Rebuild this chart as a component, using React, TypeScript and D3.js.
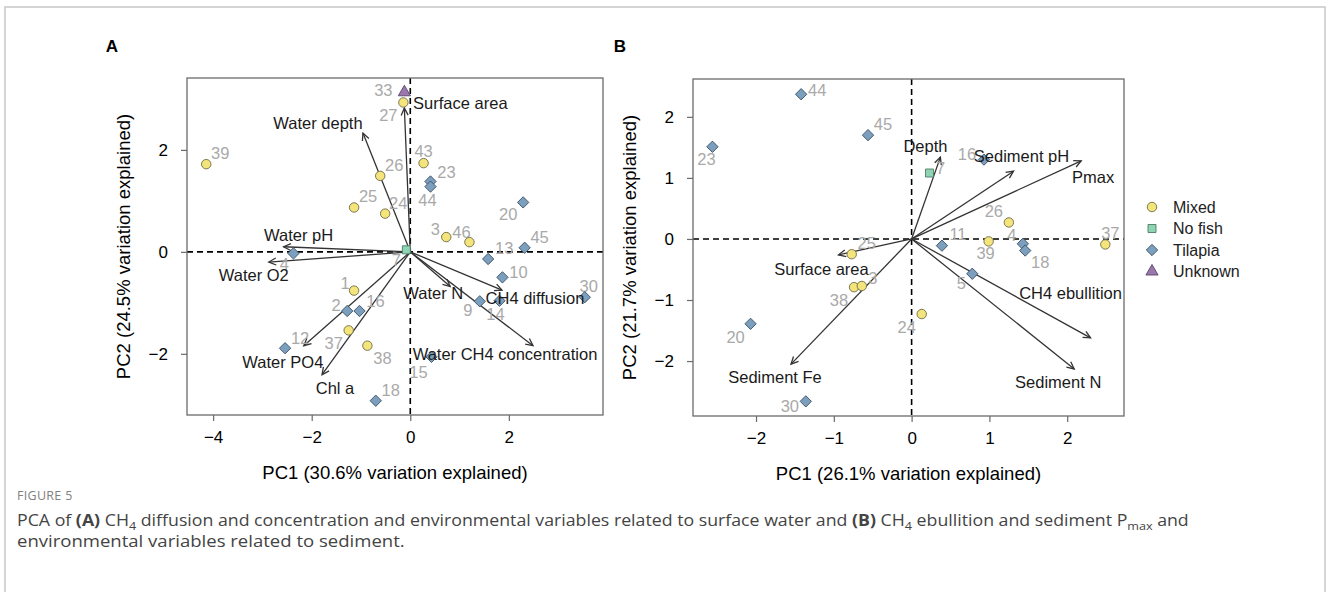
import React, { useRef, useEffect } from 'react';
import * as d3 from 'd3';

// groups (legend order)
const groups = ['Mixed', 'No fish', 'Tilapia', 'Unknown'];

// panel A samples: [id, group, PC1, PC2]
const samplesA: [string, string, number, number][] = [
  ['39', 'Mixed', -4.14, 1.72],
  ['33', 'Unknown', -0.12, 3.13],
  ['27', 'Mixed', -0.14, 2.93],
  ['43', 'Mixed', 0.27, 1.74],
  ['26', 'Mixed', -0.61, 1.49],
  ['23', 'Tilapia', 0.41, 1.38],
  ['44', 'Tilapia', 0.41, 1.28],
  ['25', 'Mixed', -1.14, 0.87],
  ['24', 'Mixed', -0.51, 0.75],
  ['20', 'Tilapia', 2.29, 0.97],
  ['3', 'Mixed', 0.73, 0.29],
  ['46', 'Mixed', 1.2, 0.19],
  ['45', 'Tilapia', 2.32, 0.08],
  ['13', 'Tilapia', 1.58, -0.14],
  ['7', 'No fish', -0.08, 0.04],
  ['10', 'Tilapia', 1.87, -0.5],
  ['30', 'Tilapia', 3.54, -0.89],
  ['9', 'Tilapia', 1.41, -0.97],
  ['14', 'Tilapia', 1.81, -0.96],
  ['15', 'Tilapia', 0.43, -2.06],
  ['18', 'Tilapia', -0.7, -2.92],
  ['38', 'Mixed', -0.87, -1.84],
  ['16', 'Tilapia', -1.03, -1.16],
  ['2', 'Tilapia', -1.28, -1.16],
  ['1', 'Mixed', -1.14, -0.76],
  ['37', 'Mixed', -1.25, -1.54],
  ['4', 'Tilapia', -2.37, -0.03],
  ['12', 'Tilapia', -2.54, -1.89]
];

// panel A loadings: [variable, PC1, PC2]
const loadingsA: [string, number, number][] = [
  ['Surface area', -0.12, 2.82],
  ['Water depth', -0.96, 2.33],
  ['Water pH', -2.57, 0.1],
  ['Water O2', -2.87, -0.2],
  ['Water PO4', -2.16, -1.84],
  ['Chl a', -1.79, -2.41],
  ['Water N', 0.81, -0.68],
  ['CH4 diffusion', 1.86, -0.75],
  ['Water CH4 concentration', 2.49, -1.84]
];

// panel B samples
const samplesB: [string, string, number, number][] = [
  ['44', 'Tilapia', -1.42, 2.37],
  ['23', 'Tilapia', -2.56, 1.51],
  ['45', 'Tilapia', -0.56, 1.7],
  ['25', 'Mixed', -0.77, -0.25],
  ['38', 'Mixed', -0.74, -0.79],
  ['3', 'Mixed', -0.64, -0.77],
  ['20', 'Tilapia', -2.07, -1.39],
  ['30', 'Tilapia', -1.36, -2.66],
  ['24', 'Mixed', 0.13, -1.23],
  ['7', 'No fish', 0.23, 1.08],
  ['16', 'Tilapia', 0.93, 1.3],
  ['26', 'Mixed', 1.25, 0.27],
  ['39', 'Mixed', 0.99, -0.04],
  ['11', 'Tilapia', 0.39, -0.11],
  ['4', 'Tilapia', 1.43, -0.08],
  ['18', 'Tilapia', 1.46, -0.19],
  ['37', 'Mixed', 2.49, -0.09],
  ['5', 'Tilapia', 0.78, -0.57]
];

const loadingsB: [string, number, number][] = [
  ['Depth', 0.37, 1.34],
  ['Sediment pH', 1.31, 1.11],
  ['Pmax', 2.18, 1.28],
  ['Surface area', -0.94, -0.26],
  ['Sediment Fe', -1.55, -2.05],
  ['CH4 ebullition', 2.3, -1.62],
  ['Sediment N', 2.09, -2.13]
];

// tick values
const xTicksA = [-4, -2, 0, 2];
const yTicksA = [-2, 0, 2];
const xTicksB = [-2, -1, 0, 1, 2];
const yTicksB = [-2, -1, 0, 1, 2];

const xTitleA = 'PC1 (30.6% variation explained)';
const yTitleA = 'PC2 (24.5% variation explained)';
const xTitleB = 'PC1 (26.1% variation explained)';
const yTitleB = 'PC2 (21.7% variation explained)';

// label nudges in px (sample labels), keyed by id
const nudgeA: Record<string, [number, number]> = {
  '39': [14, -11], '33': [-21, -2], '27': [-15, 13], '43': [0, -12], '26': [14, -11],
  '23': [16, -9], '44': [-3, 13], '25': [14, -11], '24': [13, -11], '20': [-15, 12],
  '3': [-11, -8], '46': [-8, -10], '45': [15, -11], '13': [16, -11], '7': [-10, 10],
  '10': [16, -5], '30': [4, -11], '9': [-12, 9], '14': [-4, 13], '15': [-13, 15],
  '18': [15, -11], '38': [15, 12], '16': [16, -10], '2': [-11, -6], '1': [-9, -8],
  '37': [-15, 13], '4': [-9, 11], '12': [15, -10]
};
const nudgeB: Record<string, [number, number]> = {
  '44': [16, -4], '23': [-6, 12], '45': [15, -11], '25': [15, -11], '38': [-15, 13],
  '3': [11, -8], '20': [-15, 13], '30': [-16, 5], '24': [-15, 13], '7': [11, -5],
  '16': [-17, -6], '26': [-15, -11], '39': [-3, 12], '11': [16, -12], '4': [-11, -9],
  '18': [15, 12], '37': [5, -11], '5': [-11, 9]
};
const varNudgeA: Record<string, [number, number]> = {
  'Surface area': [56, -5], 'Water depth': [-45, -10], 'Water pH': [15, -12],
  'Water O2': [-15, 13], 'Water PO4': [-21, 16], 'Chl a': [13, 13],
  'Water N': [-17, 7], 'CH4 diffusion': [33, 8], 'Water CH4 concentration': [-28, 8]
};
const varNudgeB: Record<string, [number, number]> = {
  'Depth': [-15, -11], 'Sediment pH': [8, -15], 'Pmax': [12, 16],
  'Surface area': [-17, 14], 'Sediment Fe': [-16, 13], 'CH4 ebullition': [-20, -45],
  'Sediment N': [-16, 13]
};

const groupFill: Record<string, string> = {
  'Mixed': '#f4e47c',
  'No fish': '#8ed4b2',
  'Tilapia': '#7c9fbd',
  'Unknown': '#9a78ad'
};
const groupStroke: Record<string, string> = {
  'Mixed': '#6e6a45',
  'No fish': '#4f7a66',
  'Tilapia': '#3f556b',
  'Unknown': '#5a4468'
};

const FONT = '"Liberation Sans", Arial, Helvetica, sans-serif';

const symbolPath = (group: string) => {
  if (group === 'Mixed') return d3.symbol(d3.symbolCircle, 70)();
  if (group === 'No fish') return d3.symbol(d3.symbolSquare, 64)();
  if (group === 'Tilapia') return d3.symbol(d3.symbolSquare, 64)();
  return d3.symbol(d3.symbolTriangle, 64)();
};

const drawPanel = (svg, cfg) => {
  const { left, right, top, bottom, xDomain, yDomain, xTicks, yTicks, samples, loadings, nudge, varNudge, xTitle, yTitle, letter, letterX } = cfg;
  const x = d3.scaleLinear().domain(xDomain).range([left, right]);
  const y = d3.scaleLinear().domain(yDomain).range([bottom, top]);
  const g = svg.append('g').attr('font-family', FONT);

  // panel letter
  g.append('text')
    .attr('x', letterX)
    .attr('y', 52)
    .attr('text-anchor', 'middle')
    .attr('font-weight', 'bold')
    .attr('font-size', 17)
    .attr('fill', '#000')
    .text(letter);

  // zero lines
  g.append('line')
    .attr('x1', left).attr('x2', right)
    .attr('y1', y(0)).attr('y2', y(0))
    .attr('stroke', '#000').attr('stroke-width', 1.6).attr('stroke-dasharray', '6,4');
  g.append('line')
    .attr('x1', x(0)).attr('x2', x(0))
    .attr('y1', top).attr('y2', bottom)
    .attr('stroke', '#000').attr('stroke-width', 1.6).attr('stroke-dasharray', '6,4');

  // axes
  const fmt = d => d3.format('')(d).replace('-', '\u2212');
  const xAxis = g.append('g')
    .attr('transform', `translate(0, ${bottom})`)
    .call(d3.axisBottom(x).tickValues(xTicks).tickSize(6).tickPadding(10).tickFormat(fmt));
  const yAxis = g.append('g')
    .attr('transform', `translate(${left}, 0)`)
    .call(d3.axisLeft(y).tickValues(yTicks).tickSize(6).tickPadding(13).tickFormat(fmt));
  [xAxis, yAxis].forEach(a => {
    a.select('.domain').remove();
    a.selectAll('line').attr('stroke', '#6b6b6b').attr('stroke-width', 1.2);
    a.selectAll('text').attr('font-size', 17).attr('fill', '#000').attr('font-family', FONT);
  });

  // frame
  g.append('rect')
    .attr('x', left).attr('y', top)
    .attr('width', right - left).attr('height', bottom - top)
    .attr('fill', 'none').attr('stroke', '#6b6b6b').attr('stroke-width', 1.3);

  // axis titles
  g.append('text')
    .attr('x', (left + right) / 2)
    .attr('y', bottom + 64)
    .attr('text-anchor', 'middle')
    .attr('font-size', 18.5)
    .attr('fill', '#000')
    .text(xTitle);
  g.append('text')
    .attr('transform', `translate(${left - 57}, ${(top + bottom) / 2}) rotate(-90)`)
    .attr('text-anchor', 'middle')
    .attr('font-size', 18.5)
    .attr('fill', '#000')
    .text(yTitle);

  // loading arrows
  const ox = x(0), oy = y(0);
  loadings.forEach(([name, px, py]) => {
    const tx = x(px), ty = y(py);
    const ang = Math.atan2(ty - oy, tx - ox);
    const head = 8, spread = 0.45;
    g.append('line')
      .attr('x1', ox).attr('y1', oy).attr('x2', tx).attr('y2', ty)
      .attr('stroke', '#333').attr('stroke-width', 1.3);
    const h1 = [tx - head * Math.cos(ang - spread), ty - head * Math.sin(ang - spread)];
    const h2 = [tx - head * Math.cos(ang + spread), ty - head * Math.sin(ang + spread)];
    g.append('path')
      .attr('d', `M${h1[0]},${h1[1]}L${tx},${ty}L${h2[0]},${h2[1]}`)
      .attr('fill', 'none').attr('stroke', '#333').attr('stroke-width', 1.3);
  });

  // sample labels
  g.selectAll('.sample-label')
    .data(samples)
    .enter()
    .append('text')
    .attr('class', 'sample-label')
    .attr('x', d => x(d[2]) + (nudge[d[0]] || [0, 0])[0])
    .attr('y', d => y(d[3]) + (nudge[d[0]] || [0, 0])[1])
    .attr('dy', '0.36em')
    .attr('text-anchor', 'middle')
    .attr('font-size', 16.5)
    .attr('fill', '#a9a9a9')
    .text(d => d[0]);

  // sample points
  g.selectAll('.sample')
    .data(samples)
    .enter()
    .append('path')
    .attr('class', 'sample')
    .attr('d', d => symbolPath(d[1]))
    .attr('transform', d => `translate(${x(d[2])}, ${y(d[3])})${d[1] === 'Tilapia' ? ' rotate(45)' : ''}`)
    .attr('fill', d => groupFill[d[1]])
    .attr('stroke', d => groupStroke[d[1]])
    .attr('stroke-width', 0.9);

  // variable labels
  loadings.forEach(([name, px, py]) => {
    const n = varNudge[name] || [0, 0];
    g.append('text')
      .attr('x', x(px) + n[0])
      .attr('y', y(py) + n[1])
      .attr('dy', '0.36em')
      .attr('text-anchor', 'middle')
      .attr('font-size', 16.5)
      .attr('fill', '#1a1a1a')
      .text(name);
  });
};

const App = () => {
  const svgRef = useRef(null);

  useEffect(() => {
    if (!svgRef.current) return;
    const svg = d3.select(svgRef.current);
    svg.selectAll('*').remove();

    // outer frame of the figure
    svg.append('rect')
      .attr('x', 5).attr('y', 7)
      .attr('width', 1320).attr('height', 600)
      .attr('fill', 'none').attr('stroke', '#c8c8c8').attr('stroke-width', 1.5);

    drawPanel(svg, {
      left: 187, right: 603, top: 78, bottom: 415,
      xDomain: [-4.53, 3.91], yDomain: [-3.2, 3.41],
      xTicks: xTicksA, yTicks: yTicksA,
      samples: samplesA, loadings: loadingsA,
      nudge: nudgeA, varNudge: varNudgeA,
      xTitle: xTitleA, yTitle: yTitleA,
      letter: 'A', letterX: 112
    });
    drawPanel(svg, {
      left: 693, right: 1124, top: 79, bottom: 416,
      xDomain: [-2.81, 2.73], yDomain: [-2.9, 2.62],
      xTicks: xTicksB, yTicks: yTicksB,
      samples: samplesB, loadings: loadingsB,
      nudge: nudgeB, varNudge: varNudgeB,
      xTitle: xTitleB, yTitle: yTitleB,
      letter: 'B', letterX: 620
    });

    // legend
    const legend = svg.append('g')
      .attr('font-family', FONT)
      .attr('transform', 'translate(1152, 207)');
    const items = legend.selectAll('.legend-item')
      .data(groups)
      .enter()
      .append('g')
      .attr('class', 'legend-item')
      .attr('transform', (d, i) => `translate(0, ${i * 21.5})`);
    items.append('path')
      .attr('d', d => symbolPath(d))
      .attr('transform', d => (d === 'Tilapia' ? 'rotate(45)' : ''))
      .attr('fill', d => groupFill[d])
      .attr('stroke', d => groupStroke[d])
      .attr('stroke-width', 0.9);
    items.append('text')
      .attr('x', 21)
      .attr('dy', '0.36em')
      .attr('font-size', 16)
      .attr('fill', '#222')
      .text(d => d);

    // caption
    const cap = svg.append('g').attr('font-family', '"Open Sans", Lato, sans-serif');
    cap.append('text')
      .attr('x', 17).attr('y', 500)
      .attr('font-size', 12.5)
      .attr('fill', '#808080')
      .attr('letter-spacing', 0.3)
      .text('FIGURE 5');

    const line1 = cap.append('text')
      .attr('x', 17).attr('y', 526)
      .attr('font-size', 15.5)
      .attr('fill', '#444');
    const seg = (sel, txt, opts = {}) => {
      const t = sel.append('tspan').text(txt);
      if (opts.bold) t.attr('font-weight', 'bold');
      if (opts.sub) t.attr('font-size', 11).attr('dy', 4);
      if (opts.up) t.attr('dy', -4);
      return t;
    };
    seg(line1, 'PCA of ');
    seg(line1, '(A)', { bold: true });
    seg(line1, ' CH');
    seg(line1, '4', { sub: true });
    seg(line1, ' diffusion and concentration and environmental variables related to surface water and ', { up: true });
    seg(line1, '(B)', { bold: true });
    seg(line1, ' CH');
    seg(line1, '4', { sub: true });
    seg(line1, ' ebullition and sediment P', { up: true });
    seg(line1, 'max', { sub: true });
    seg(line1, ' and', { up: true });

    const line2 = cap.append('text')
      .attr('x', 17).attr('y', 547)
      .attr('font-size', 15.5)
      .attr('fill', '#444')
      .text('environmental variables related to sediment.');

    // squeeze caption lines to the condensed width of the original
    const fit = (sel, target) => {
      const w = sel.node().getBBox().width;
      if (w > 0) sel.attr('transform', `translate(17, 0) scale(${target / w}, 1) translate(-17, 0)`);
    };
    fit(line1, 1173);
    fit(line2, 388);
  }, []);

  return (
    <svg
      ref={svgRef}
      width={1329}
      height={592}
      style={{ position: 'absolute', left: 0, top: 0, background: '#fff' }}
    />
  );
};

export default App;
